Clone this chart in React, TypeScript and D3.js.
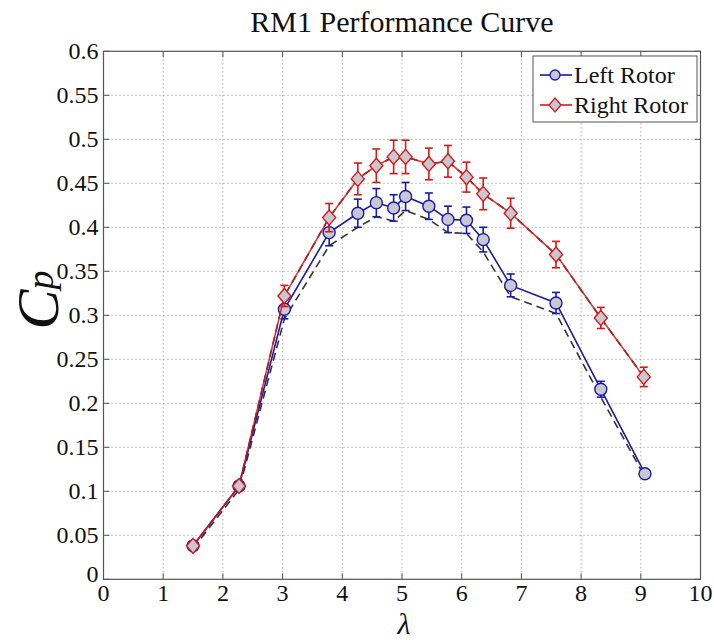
import React from "react";
import * as d3 from "d3";

const lambdaLeft = [1.5, 2.27, 3.03, 3.78, 4.26, 4.57, 4.86, 5.06, 5.45, 5.77, 6.08, 6.36, 6.82, 7.58, 8.33, 9.07];
const cpLeft = [0.038, 0.106, 0.307, 0.394, 0.416, 0.428, 0.422, 0.435, 0.424, 0.409, 0.408, 0.386, 0.334, 0.314, 0.216, 0.12];
const errLeft = [0.003, 0.004, 0.011, 0.015, 0.016, 0.016, 0.015, 0.016, 0.015, 0.015, 0.015, 0.014, 0.013, 0.012, 0.009, 0.004];

const lambdaRight = [1.5, 2.27, 3.03, 3.78, 4.26, 4.57, 4.86, 5.06, 5.45, 5.77, 6.08, 6.36, 6.82, 7.58, 8.33, 9.05];
const cpRight = [0.038, 0.106, 0.322, 0.411, 0.455, 0.47, 0.48, 0.48, 0.472, 0.475, 0.457, 0.438, 0.416, 0.369, 0.297, 0.23];
const errRight = [0.003, 0.004, 0.012, 0.016, 0.018, 0.019, 0.019, 0.019, 0.018, 0.018, 0.017, 0.018, 0.017, 0.015, 0.012, 0.011];

const xTicks = [0, 1, 2, 3, 4, 5, 6, 7, 8, 9, 10];
const yTicks = [0, 0.05, 0.1, 0.15, 0.2, 0.25, 0.3, 0.35, 0.4, 0.45, 0.5, 0.55, 0.6];
const yTickLabels = ["0", "0.05", "0.1", "0.15", "0.2", "0.25", "0.3", "0.35", "0.4", "0.45", "0.5", "0.55", "0.6"];

const seriesNames = ["Left Rotor", "Right Rotor"];

const W = 714, H = 640;
const L = 103.5, R = 700.5, T = 51.3, B = 579.3;
const BLUE = "#1a1aa8";
const RED = "#d81818";
const FILL = "#c8c8d2";
const SERIF = "'Liberation Serif', 'Times New Roman', serif";

export default function App() {
  const x = d3.scaleLinear().domain([0, 10]).range([L, R]);
  const y = d3.scaleLinear().domain([0, 0.6]).range([B, T]);
  const line = d3.line<[number, number]>().x(d => x(d[0])).y(d => y(d[1]));

  const leftPts: [number, number][] = lambdaLeft.map((l, i) => [l, cpLeft[i]]);
  const rightPts: [number, number][] = lambdaRight.map((l, i) => [l, cpRight[i]]);
  const leftLow: [number, number][] = lambdaLeft.map((l, i) => [l, cpLeft[i] - errLeft[i]]);

  const diamond = (cx: number, cy: number, rx: number, ry: number) =>
    `M${cx},${cy - ry}L${cx + rx},${cy}L${cx},${cy + ry}L${cx - rx},${cy}Z`;

  const errBars = (lams: number[], cps: number[], errs: number[], color: string) =>
    lams.map((l, i) => {
      const cx = x(l);
      const y1 = y(cps[i] + errs[i]);
      const y2 = y(cps[i] - errs[i]);
      return (
        <g key={i} stroke={color} strokeWidth={1.6}>
          <line x1={cx} x2={cx} y1={y1} y2={y2} />
          <line x1={cx - 4} x2={cx + 4} y1={y1} y2={y1} />
          <line x1={cx - 4} x2={cx + 4} y1={y2} y2={y2} />
        </g>
      );
    });

  return (
    <svg width={W} height={H} style={{ position: "absolute", left: 0, top: 0, background: "#fff" }}>
      <rect x={0} y={0} width={W} height={H} fill="#fff" />
      {/* grid */}
      <g stroke="#8a8a8a" strokeWidth={1} strokeDasharray="1,3">
        {xTicks.slice(1, -1).map(t => (
          <line key={"gx" + t} x1={x(t)} x2={x(t)} y1={T} y2={B} />
        ))}
        {yTicks.slice(1, -1).map(t => (
          <line key={"gy" + t} x1={L} x2={R} y1={y(t)} y2={y(t)} />
        ))}
      </g>
      {/* ticks */}
      <g stroke="#555" strokeWidth={1}>
        {xTicks.map(t => (
          <g key={"tx" + t}>
            <line x1={x(t)} x2={x(t)} y1={B} y2={B - 6} />
            <line x1={x(t)} x2={x(t)} y1={T} y2={T + 6} />
          </g>
        ))}
        {yTicks.map(t => (
          <g key={"ty" + t}>
            <line x1={L} x2={L + 6} y1={y(t)} y2={y(t)} />
            <line x1={R} x2={R - 6} y1={y(t)} y2={y(t)} />
          </g>
        ))}
      </g>
      {/* box */}
      <rect x={L} y={T} width={R - L} height={B - T} fill="none" stroke="#555" strokeWidth={1.2} />

      {/* tick labels */}
      <g fontFamily={SERIF} fontSize={24} fill="#111">
        {xTicks.map(t => (
          <text key={"lx" + t} x={x(t)} y={B + 22} textAnchor="middle">{t}</text>
        ))}
        {yTicks.map((t, i) => (
          <text key={"ly" + t} x={L - 5} y={y(t) + (i === 0 ? 3 : 8)} textAnchor="end">{yTickLabels[i]}</text>
        ))}
      </g>

      {/* title */}
      <text x={402} y={32} textAnchor="middle" fontFamily={SERIF} fontSize={30} fill="#111">RM1 Performance Curve</text>
      {/* axis labels */}
      <text x={404} y={634} textAnchor="middle" fontFamily={SERIF} fontSize={30} fontStyle="italic" fill="#111">λ</text>
      <text transform="translate(58,300) rotate(-90)" textAnchor="middle" fontFamily={SERIF} fontStyle="italic" fill="#111">
        <tspan fontSize={60}>C</tspan>
        <tspan fontSize={38} dy={-5}>p</tspan>
      </text>

      {/* dashed lines */}
      <path d={line(leftLow) || ""} fill="none" stroke="#333" strokeWidth={1.6} strokeDasharray="8,5" />
      <path d={line(rightPts) || ""} fill="none" stroke="#333" strokeWidth={1.6} strokeDasharray="8,5" />

      {/* left rotor */}
      <path d={line(leftPts) || ""} fill="none" stroke={BLUE} strokeWidth={1.6} />
      {errBars(lambdaLeft, cpLeft, errLeft, BLUE)}
      {leftPts.map((p, i) => (
        <circle key={"cl" + i} cx={x(p[0])} cy={y(p[1])} r={6} fill={FILL} stroke={BLUE} strokeWidth={1.4} />
      ))}

      {/* right rotor */}
      <path d={line(rightPts) || ""} fill="none" stroke={RED} strokeWidth={1.6} opacity={0.85} />
      {errBars(lambdaRight, cpRight, errRight, RED)}
      {rightPts.map((p, i) => (
        <path key={"dr" + i} d={diamond(x(p[0]), y(p[1]), 6.5, 7.5)} fill={FILL} stroke={RED} strokeWidth={1.4} />
      ))}

      {/* legend */}
      <g>
        <rect x={533} y={56} width={164} height={66} fill="#fff" stroke="#555" strokeWidth={1} />
        <line x1={540} x2={572} y1={75} y2={75} stroke={BLUE} strokeWidth={1.6} />
        <circle cx={555} cy={75} r={5} fill={FILL} stroke={BLUE} strokeWidth={1.3} />
        <line x1={540} x2={572} y1={105} y2={105} stroke={RED} strokeWidth={1.6} />
        <path d={diamond(555, 105, 6, 7)} fill={FILL} stroke={RED} strokeWidth={1.3} />
        <text x={574} y={83} fontFamily={SERIF} fontSize={24} fill="#111">{seriesNames[0]}</text>
        <text x={574} y={113} fontFamily={SERIF} fontSize={24} fill="#111">{seriesNames[1]}</text>
      </g>
    </svg>
  );
}
